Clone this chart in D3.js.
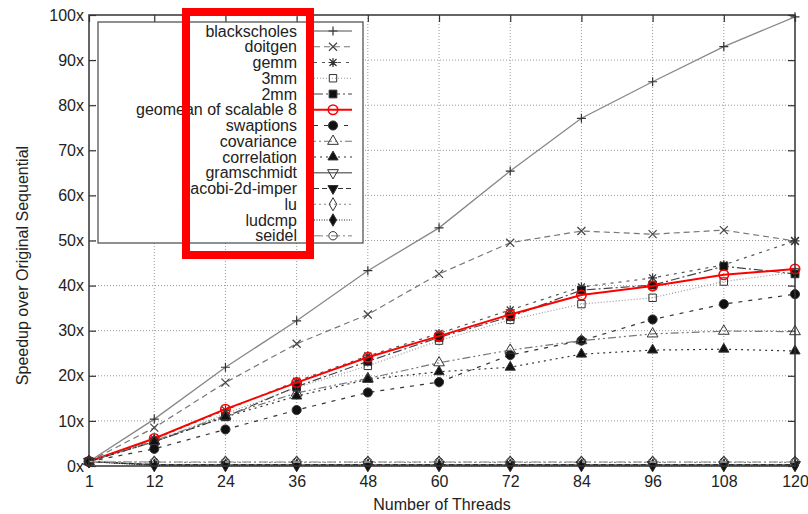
<!DOCTYPE html>
<html>
<head>
<meta charset="utf-8">
<script src="https://cdn.jsdelivr.net/npm/d3@7"></script>
<style>
  body { margin: 0; background: #fff; }
  text { font-family: "Liberation Sans", Arial, Helvetica, sans-serif; fill: #222; }
</style>
</head>
<body>
<svg width="808" height="514"></svg>
<script>
// values
var threads = [1, 12, 24, 36, 48, 60, 72, 84, 96, 108, 120];
var yTicks = [0, 10, 20, 30, 40, 50, 60, 70, 80, 90, 100];

var names = ["blackscholes", "doitgen", "gemm", "3mm", "2mm", "geomean of scalable 8",
  "swaptions", "covariance", "correlation", "gramschmidt", "jacobi-2d-imper", "lu", "ludcmp", "seidel"];

var blackscholes = [1, 10.4, 21.9, 32.2, 43.3, 52.8, 65.4, 77.1, 85.2, 93.0, 99.6];
var doitgen      = [1, 8.5, 18.5, 27.1, 33.6, 42.6, 49.5, 52.1, 51.4, 52.3, 49.9];
var gemm         = [1, 6.0, 12.4, 18.8, 24.4, 29.4, 34.6, 39.7, 41.7, 44.6, 49.9];
var mm3          = [1, 5.3, 11.6, 17.4, 22.2, 27.8, 32.4, 35.9, 37.3, 40.9, 43.0];
var mm2          = [1, 5.4, 10.9, 17.6, 23.2, 28.5, 33.1, 39.0, 40.1, 44.3, 42.6];
var geomean      = [1, 6.1, 12.6, 18.5, 24.1, 28.8, 33.6, 37.9, 39.9, 42.4, 43.7];
var swaptions    = [1, 3.8, 8.1, 12.4, 16.3, 18.6, 24.6, 27.8, 32.5, 35.9, 38.1];
var covariance   = [1, 5.6, 11.2, 16.2, 19.4, 22.9, 25.7, 27.8, 29.3, 29.9, 29.8];
var correlation  = [1, 5.4, 10.9, 15.5, 19.2, 20.9, 21.9, 24.8, 25.7, 25.9, 25.5];
var gramschmidt  = [1, 0.3, 0.3, 0.3, 0.3, 0.3, 0.3, 0.3, 0.3, 0.3, 0.3];
var jacobi       = [1, 0.3, 0.3, 0.3, 0.3, 0.3, 0.3, 0.3, 0.3, 0.3, 0.3];
var lu           = [1, 0.8, 0.8, 0.8, 0.8, 0.8, 0.8, 0.8, 0.8, 0.8, 0.8];
var ludcmp       = [1, 0.1, 0.1, 0.1, 0.1, 0.1, 0.1, 0.1, 0.1, 0.1, 0.1];
var seidel       = [1, 0.9, 0.9, 0.9, 0.9, 0.9, 0.9, 0.9, 0.9, 0.9, 0.9];

var series = [blackscholes, doitgen, gemm, mm3, mm2, geomean, swaptions,
  covariance, correlation, gramschmidt, jacobi, lu, ludcmp, seidel];

// line / point styles, gnuplot-ish
var styles = [
  { color: "#888", dash: null,          width: 1.3, mark: "plus" },
  { color: "#777", dash: "6,4",         width: 1.2, mark: "cross" },
  { color: "#555", dash: "3,5",         width: 1.2, mark: "star" },
  { color: "#999", dash: "1,2",         width: 1.2, mark: "square" },
  { color: "#444", dash: "9,3,2,3",     width: 1.2, mark: "squareF" },
  { color: "#ff0000", dash: null,       width: 2,   mark: "circleRed" },
  { color: "#333", dash: "4,6",         width: 1.2, mark: "circleF" },
  { color: "#777", dash: "2,3,2,3,8,3", width: 1.2, mark: "triangle" },
  { color: "#333", dash: "2,4",         width: 1.2, mark: "triangleF" },
  { color: "#777", dash: null,          width: 1.5, mark: "triDown" },
  { color: "#333", dash: "5,3",         width: 1.2, mark: "triDownF" },
  { color: "#888", dash: "2,3",         width: 1.2, mark: "diamond" },
  { color: "#222", dash: "1,1.5",       width: 1.2, mark: "diamondF" },
  { color: "#aaa", dash: "9,3,2,3",     width: 1.5, mark: "circle" }
];

var svg = d3.select("svg"),
    plotL = 89, plotR = 795, plotT = 15, plotB = 466;

var x = d3.scaleLinear().domain([1, 120]).range([plotL, plotR]);
var y = d3.scaleLinear().domain([0, 100]).range([plotB, plotT]);

// grid
svg.append("g").selectAll("line")
  .data(threads.slice(1, -1))
  .enter().append("line")
  .attr("x1", d => x(d)).attr("x2", d => x(d))
  .attr("y1", plotT).attr("y2", plotB)
  .attr("stroke", "#999").attr("stroke-width", 1).attr("stroke-dasharray", "1,2");

svg.append("g").selectAll("line")
  .data(yTicks.slice(1, -1))
  .enter().append("line")
  .attr("y1", d => y(d)).attr("y2", d => y(d))
  .attr("x1", plotL).attr("x2", plotR)
  .attr("stroke", "#999").attr("stroke-width", 1).attr("stroke-dasharray", "1,2");

// axes with inward ticks
var axisStyle = function(g) {
  g.select(".domain").remove();
  g.selectAll(".tick line").attr("stroke", "#333").attr("stroke-width", 1.2);
  g.selectAll(".tick text").style("font-size", "16px").attr("fill", "#222");
};

svg.append("g")
  .attr("transform", "translate(0," + plotB + ")")
  .call(d3.axisBottom(x).tickValues(threads).tickSize(-7).tickPadding(10))
  .call(axisStyle);

svg.append("g")
  .attr("transform", "translate(0," + plotT + ")")
  .call(d3.axisTop(x).tickValues(threads).tickSize(-7).tickFormat(""))
  .call(axisStyle);

svg.append("g")
  .attr("transform", "translate(" + plotL + ",0)")
  .call(d3.axisLeft(y).tickValues(yTicks).tickSize(-7).tickPadding(5).tickFormat(d => d + "x"))
  .call(axisStyle);

svg.append("g")
  .attr("transform", "translate(" + plotR + ",0)")
  .call(d3.axisRight(y).tickValues(yTicks).tickSize(-7).tickFormat(""))
  .call(axisStyle);

// axis titles
svg.append("text")
  .attr("x", (plotL + plotR) / 2).attr("y", 510)
  .attr("text-anchor", "middle").style("font-size", "16px")
  .text("Number of Threads");

svg.append("text")
  .attr("transform", "translate(28," + ((plotT + plotB) / 2 + 25) + ") rotate(-90)")
  .attr("text-anchor", "middle").style("font-size", "16px")
  .text("Speedup over Original Sequential");

// markers
function drawMark(g, type, color) {
  if (type == "plus") {
    g.append("path").attr("d", "M-4.5,0H4.5M0,-4.5V4.5").attr("stroke", "#333").attr("stroke-width", 1.2);
  } else if (type == "cross") {
    g.append("path").attr("d", "M-4,-4L4,4M-4,4L4,-4").attr("stroke", "#444").attr("stroke-width", 1.2);
  } else if (type == "star") {
    g.append("path").attr("d", "M-4.5,0H4.5M0,-4.5V4.5M-3.5,-3.5L3.5,3.5M-3.5,3.5L3.5,-3.5").attr("stroke", "#333").attr("stroke-width", 1.2);
  } else {
    var shape = d3.symbolCircle, size = 50, filled = false, rot = 0, stroke = "#333";
    if (type == "square") { shape = d3.symbolSquare; size = 55; }
    if (type == "squareF") { shape = d3.symbolSquare; size = 60; filled = true; }
    if (type == "circleRed") { size = 70; stroke = "#ff0000"; }
    if (type == "circleF") { size = 65; filled = true; }
    if (type == "circle") { size = 55; }
    if (type == "triangle") { shape = d3.symbolTriangle; size = 50; }
    if (type == "triangleF") { shape = d3.symbolTriangle; size = 45; filled = true; }
    if (type == "triDown") { shape = d3.symbolTriangle; size = 50; rot = 180; }
    if (type == "triDownF") { shape = d3.symbolTriangle; size = 45; filled = true; rot = 180; }
    if (type == "diamond") { shape = d3.symbolDiamond; size = 50; }
    if (type == "diamondF") { shape = d3.symbolDiamond; size = 45; filled = true; }
    g.append("path")
      .attr("d", d3.symbol().type(shape).size(size)())
      .attr("transform", "rotate(" + rot + ")")
      .attr("fill", filled ? "#111" : "none")
      .attr("stroke", stroke)
      .attr("stroke-width", type == "circleRed" ? 1.6 : 1);
  }
}

var line = d3.line()
  .x((d, i) => x(threads[i]))
  .y(d => y(d));

series.forEach(function(vals, s) {
  var st = styles[s];
  var g = svg.append("g");
  g.append("path")
    .datum(vals)
    .attr("d", line)
    .attr("fill", "none")
    .attr("stroke", st.color)
    .attr("stroke-width", st.width)
    .attr("stroke-dasharray", st.dash);
  g.selectAll(".pt")
    .data(vals)
    .enter().append("g")
    .attr("class", "pt")
    .attr("transform", (d, i) => "translate(" + x(threads[i]) + "," + y(d) + ")")
    .each(function() { drawMark(d3.select(this), st.mark, st.color); });
});

// border
svg.append("rect")
  .attr("x", plotL).attr("y", plotT)
  .attr("width", plotR - plotL).attr("height", plotB - plotT)
  .attr("fill", "none").attr("stroke", "#333").attr("stroke-width", 1.5);

// legend (opaque key box)
var legX = 98, legY = 22, legW = 265, legH = 221, rowH = 15.75;
svg.append("rect")
  .attr("x", legX).attr("y", legY).attr("width", legW).attr("height", legH)
  .attr("fill", "#fff").attr("stroke", "#555").attr("stroke-width", 1.3);

var leg = svg.append("g").selectAll("g")
  .data(names)
  .enter().append("g")
  .attr("transform", (d, i) => "translate(0," + (legY + 9 + i * rowH) + ")");

leg.append("text")
  .attr("x", 297).attr("dy", "0.35em")
  .attr("text-anchor", "end").style("font-size", "16px")
  .text(d => d);

leg.append("line")
  .attr("x1", 314).attr("x2", 352)
  .attr("stroke", (d, i) => styles[i].color)
  .attr("stroke-width", (d, i) => styles[i].width)
  .attr("stroke-dasharray", (d, i) => styles[i].dash);

leg.append("g")
  .attr("transform", "translate(333,0)")
  .each(function(d, i) { drawMark(d3.select(this), styles[i].mark, styles[i].color); });

// red highlight box over the legend labels
svg.append("rect")
  .attr("x", 186).attr("y", 12).attr("width", 124).attr("height", 243)
  .attr("fill", "none").attr("stroke", "#ff0000").attr("stroke-width", 8);
</script>
</body>
</html>
